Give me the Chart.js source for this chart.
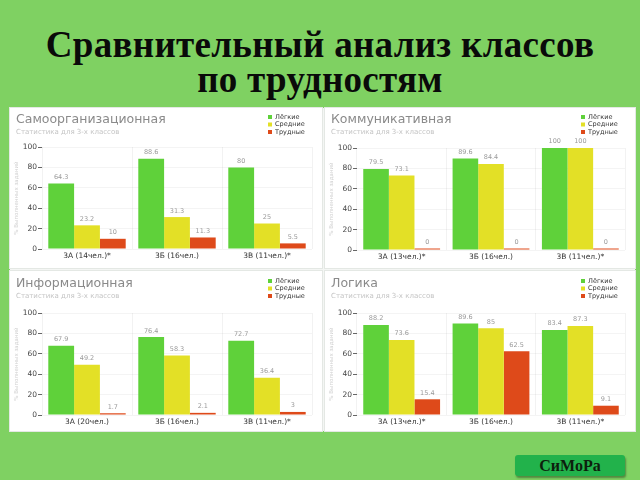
<!DOCTYPE html>
<html><head><meta charset="utf-8">
<script src="https://cdn.jsdelivr.net/npm/chart.js@4"></script>
<style>
html,body{margin:0;padding:0;}
body{width:640px;height:480px;background:#7fd162;position:relative;overflow:hidden;font-family:"Liberation Serif",serif;}
#title{position:absolute;left:0;top:27px;width:640px;text-align:center;font-family:"Liberation Serif",serif;font-weight:bold;font-size:37px;line-height:35px;letter-spacing:0.3px;color:#0a0a0a;}
#board{position:absolute;left:10px;top:108px;width:625px;height:323px;background:#f4f6f4;}
.panel{position:absolute;background:#fff;box-shadow:0 0 0 1px #e4e8e4;}
.panel canvas{display:block;}
#btn{position:absolute;left:515px;top:455px;width:110px;height:21px;background:#22b24b;border-radius:3px;box-shadow:1px 2px 2px rgba(0,0,0,0.35);text-align:center;font-family:"Liberation Serif",serif;font-weight:bold;font-size:16px;line-height:21px;color:#0d1f0d;}
</style></head>
<body>
<div id="title">Сравнительный анализ классов<br>по трудностям</div>
<div id="board"></div>
<div class="panel" style="left:10px;top:108px;width:312px;height:160px"><canvas id="c1" width="312" height="160"></canvas></div>
<div class="panel" style="left:325px;top:108px;width:310px;height:160px"><canvas id="c2" width="310" height="160"></canvas></div>
<div class="panel" style="left:10px;top:271px;width:312px;height:160px"><canvas id="c3" width="312" height="160"></canvas></div>
<div class="panel" style="left:325px;top:271px;width:310px;height:160px"><canvas id="c4" width="310" height="160"></canvas></div>
<div id="btn">СиМоРа</div>
<script>
// ---- data ----
const seriesNames = ['Лёгкие', 'Средние', 'Трудные'];
const seriesColors = ['#5fd13a', '#e3e026', '#de4a1a'];
const yTicks = [0, 20, 40, 60, 80, 100];
const subtitleText = 'Статистика для 3-х классов';
const yAxisTitle = '% Выполненных заданий';

const selfOrgTitle = 'Самоорганизационная';
const selfOrgClasses = ['3А (14чел.)*', '3Б (16чел.)', '3В (11чел.)*'];
const selfOrgEasy = [64.3, 88.6, 80];
const selfOrgMedium = [23.2, 31.3, 25];
const selfOrgHard = [10, 11.3, 5.5];

const commTitle = 'Коммуникативная';
const commClasses = ['3А (13чел.)*', '3Б (16чел.)', '3В (11чел.)*'];
const commEasy = [79.5, 89.6, 100];
const commMedium = [73.1, 84.4, 100];
const commHard = [0, 0, 0];

const infoTitle = 'Информационная';
const infoClasses = ['3А (20чел.)', '3Б (16чел.)', '3В (11чел.)*'];
const infoEasy = [67.9, 76.4, 72.7];
const infoMedium = [49.2, 58.3, 36.4];
const infoHard = [1.7, 2.1, 3];

const logicTitle = 'Логика';
const logicClasses = ['3А (13чел.)*', '3Б (16чел.)', '3В (11чел.)*'];
const logicEasy = [88.2, 89.6, 83.4];
const logicMedium = [73.6, 85, 87.3];
const logicHard = [15.4, 62.5, 9.1];

// ---- decoration plugin ----
const decor = {
  id: 'decor',
  afterDraw(chart, args, o) {
    const ctx = chart.ctx;
    const W = chart.width;
    ctx.save();
    ctx.textBaseline = 'middle';
    ctx.textAlign = 'left';
    ctx.font = '12.5px "DejaVu Sans"';
    ctx.fillStyle = '#8a8a8a';
    ctx.fillText(o.title, 6, o.titleY);
    ctx.font = '7px "DejaVu Sans"';
    ctx.fillStyle = '#c4c4c4';
    ctx.fillText(subtitleText, 6, o.titleY + 12);
    // legend
    ctx.font = '6.5px "DejaVu Sans"';
    chart.data.datasets.forEach((ds, i) => {
      const y = o.titleY - 3 + i * 7.5;
      ctx.fillStyle = ds.backgroundColor;
      ctx.fillRect(W - 54, y - 2, 4, 4);
      ctx.fillStyle = '#333';
      ctx.fillText(ds.label, W - 47, y);
    });
    // y-axis title
    const ca = chart.chartArea;
    ctx.save();
    ctx.translate(7, (ca.top + ca.bottom) / 2);
    ctx.rotate(-Math.PI / 2);
    ctx.textAlign = 'center';
    ctx.font = '5.5px "DejaVu Sans"';
    ctx.fillStyle = '#d2d2d2';
    ctx.fillText(yAxisTitle, 0, 0);
    ctx.restore();
    // value labels
    ctx.textAlign = 'center';
    ctx.textBaseline = 'bottom';
    ctx.font = '6.5px "DejaVu Sans"';
    ctx.fillStyle = '#9a9a9a';
    chart.data.datasets.forEach((ds, i) => {
      chart.getDatasetMeta(i).data.forEach((bar, j) => {
        ctx.fillText(String(ds.data[j]), bar.x, bar.y - 3);
      });
    });
    ctx.restore();
  }
};

function makeChart(id, title, classes, easy, medium, hard, padTop, titleY) {
  const values = [easy, medium, hard];
  new Chart(document.getElementById(id), {
    type: 'bar',
    data: {
      labels: classes,
      datasets: values.map((v, i) => ({
        label: seriesNames[i],
        data: v,
        backgroundColor: seriesColors[i],
        borderWidth: 0,
        minBarLength: 1.5,
        categoryPercentage: 0.86,
        barPercentage: 1.0
      }))
    },
    options: {
      responsive: false,
      animation: false,
      layout: { padding: { top: padTop, right: 10, left: 0, bottom: 0 } },
      plugins: { legend: { display: false }, tooltip: { enabled: false }, decor: { title: title, titleY: titleY } },
      scales: {
        x: {
          grid: { display: true, offset: true, color: 'rgba(0,0,0,0.05)', drawTicks: false },
          border: { display: false },
          ticks: { color: '#333', font: { family: 'DejaVu Sans', size: 7.5 }, padding: 3 },
          afterFit: s => { s.height = 160 - padTop - 102; }
        },
        y: {
          min: 0, max: 100,
          afterBuildTicks: s => { s.ticks = yTicks.map(v => ({ value: v })); },
          grid: { color: 'rgba(0,0,0,0.045)', tickColor: '#666', tickLength: 4, drawTicks: true },
          border: { display: false },
          ticks: { color: '#444', font: { family: 'DejaVu Sans', size: 7.5 }, padding: 1 },
          afterFit: s => { s.width = 32; }
        }
      }
    },
    plugins: [decor]
  });
}

makeChart('c1', selfOrgTitle, selfOrgClasses, selfOrgEasy, selfOrgMedium, selfOrgHard, 39, 12);
makeChart('c2', commTitle, commClasses, commEasy, commMedium, commHard, 40, 12);
makeChart('c3', infoTitle, infoClasses, infoEasy, infoMedium, infoHard, 42, 13);
makeChart('c4', logicTitle, logicClasses, logicEasy, logicMedium, logicHard, 42, 13);
</script>
</body></html>
